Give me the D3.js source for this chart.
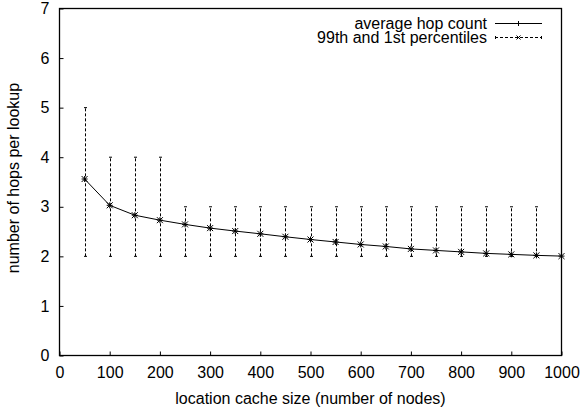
<!DOCTYPE html>
<html>
<head>
<meta charset="utf-8">
<script src="https://d3js.org/d3.v7.min.js"></script>
<style>
  body { margin: 0; background: #fff; }
  text { font-family: "Liberation Sans", Arial, sans-serif; fill: #000; }
</style>
</head>
<body>
<div id="chart"></div>
<script>
// cache size vs hop count
var cacheSizes = [50, 100, 150, 200, 250, 300, 350, 400, 450, 500,
                  550, 600, 650, 700, 750, 800, 850, 900, 950, 1000];
var avgHops = [3.56, 3.03, 2.83, 2.73, 2.645, 2.57, 2.51, 2.455, 2.395, 2.34,
               2.29, 2.24, 2.2, 2.15, 2.12, 2.09, 2.06, 2.04, 2.02, 2.005];
var pct99 = [5, 4, 4, 4, 3, 3, 3, 3, 3, 3, 3, 3, 3, 3, 3, 3, 3, 3, 3, 2];
var pct1  = [2, 2, 2, 2, 2, 2, 2, 2, 2, 2, 2, 2, 2, 2, 2, 2, 2, 2, 2, 2];
var xTicks = [0, 100, 200, 300, 400, 500, 600, 700, 800, 900, 1000];
var yTicks = [0, 1, 2, 3, 4, 5, 6, 7];
var legendLabels = ["average hop count", "99th and 1st percentiles"];

var W = 582, H = 410;
var L = 59.5, R = 561.5, T = 8.5, B = 355.5;
var FONT = "16px";

var svg = d3.select("#chart").append("svg")
  .attr("width", W).attr("height", H);

var x = d3.scaleLinear().domain([0, 1000]).range([L, R]);
var y = d3.scaleLinear().domain([0, 7]).range([B, T]);

// axes with inward ticks
var xAxis = svg.append("g").attr("transform", "translate(0," + B + ")")
  .call(d3.axisBottom(x).tickValues(xTicks).tickFormat(d3.format("d"))
    .tickSizeInner(-4).tickSizeOuter(0).tickPadding(11));
var yAxis = svg.append("g").attr("transform", "translate(" + L + ",0)")
  .call(d3.axisLeft(y).tickValues(yTicks).tickFormat(d3.format("d"))
    .tickSizeInner(-4).tickSizeOuter(0).tickPadding(10));
[xAxis, yAxis].forEach(function(a) {
  a.select(".domain").remove();
  a.selectAll("line").attr("stroke", "#000");
  a.selectAll("text").style("font-size", FONT).style("font-family", "'Liberation Sans', Arial, sans-serif");
});

// frame
svg.append("rect")
  .attr("x", L).attr("y", T).attr("width", R - L).attr("height", B - T)
  .attr("fill", "none").attr("stroke", "#000").attr("stroke-width", 1.3);

// error bars
var eb = svg.append("g");
cacheSizes.forEach(function(c, i) {
  if (pct99[i] === pct1[i]) return;
  var cx = Math.round(x(c)) + 0.5;
  eb.append("line")
    .attr("x1", cx).attr("x2", cx)
    .attr("y1", y(pct1[i])).attr("y2", y(pct99[i]))
    .attr("stroke", "#000").attr("stroke-width", 1)
    .attr("stroke-dasharray", "3,2");
  [pct1[i], pct99[i]].forEach(function(v) {
    eb.append("line")
      .attr("x1", cx - 1.5).attr("x2", cx + 1.5)
      .attr("y1", y(v)).attr("y2", y(v))
      .attr("stroke", "#000").attr("stroke-width", 1);
  });
});

// average line
var line = d3.line()
  .x(function(d, i) { return x(cacheSizes[i]); })
  .y(function(d) { return y(d); });
svg.append("path").datum(avgHops)
  .attr("d", line).attr("fill", "none")
  .attr("stroke", "#000").attr("stroke-width", 1);

function plus(g, cx, cy, s) {
  g.append("path").attr("d", "M" + (cx - s) + "," + cy + "H" + (cx + s) + "M" + cx + "," + (cy - s) + "V" + (cy + s))
    .attr("stroke", "#000").attr("stroke-width", 1).attr("fill", "none");
}
function cross(g, cx, cy, s) {
  g.append("path").attr("d", "M" + (cx - s) + "," + (cy - s) + "L" + (cx + s) + "," + (cy + s) +
      "M" + (cx - s) + "," + (cy + s) + "L" + (cx + s) + "," + (cy - s))
    .attr("stroke", "#000").attr("stroke-width", 1).attr("fill", "none");
}

var pts = svg.append("g");
cacheSizes.forEach(function(c, i) {
  plus(pts, x(c), y(avgHops[i]), 3);
  cross(pts, x(c), y(avgHops[i]), 3);
});

// legend
var lg = svg.append("g");
var rows = [23, 37];
legendLabels.forEach(function(t, i) {
  lg.append("text").attr("x", 487).attr("y", rows[i]).attr("dy", "0.35em")
    .attr("text-anchor", "end").style("font-size", FONT).text(t);
});
lg.append("line").attr("x1", 495).attr("x2", 542).attr("y1", rows[0] + 0.5).attr("y2", rows[0] + 0.5)
  .attr("stroke", "#000");
plus(lg, 518.5, rows[0] + 0.5, 2.5);
lg.append("line").attr("x1", 495).attr("x2", 542).attr("y1", rows[1] + 0.5).attr("y2", rows[1] + 0.5)
  .attr("stroke", "#000").attr("stroke-dasharray", "3,2");
[495.5, 541.5].forEach(function(px) {
  lg.append("line").attr("x1", px).attr("x2", px).attr("y1", rows[1] - 1).attr("y2", rows[1] + 2)
    .attr("stroke", "#000");
});
cross(lg, 518.5, rows[1] + 0.5, 2);

// axis titles
svg.append("text").attr("x", (L + R) / 2).attr("y", 398).attr("dy", "0.35em")
  .attr("text-anchor", "middle").style("font-size", FONT)
  .text("location cache size (number of nodes)");
svg.append("text").attr("transform", "translate(13,178) rotate(-90)")
  .attr("dy", "0.35em").attr("text-anchor", "middle").style("font-size", FONT)
  .text("number of hops per lookup");
</script>
</body>
</html>
